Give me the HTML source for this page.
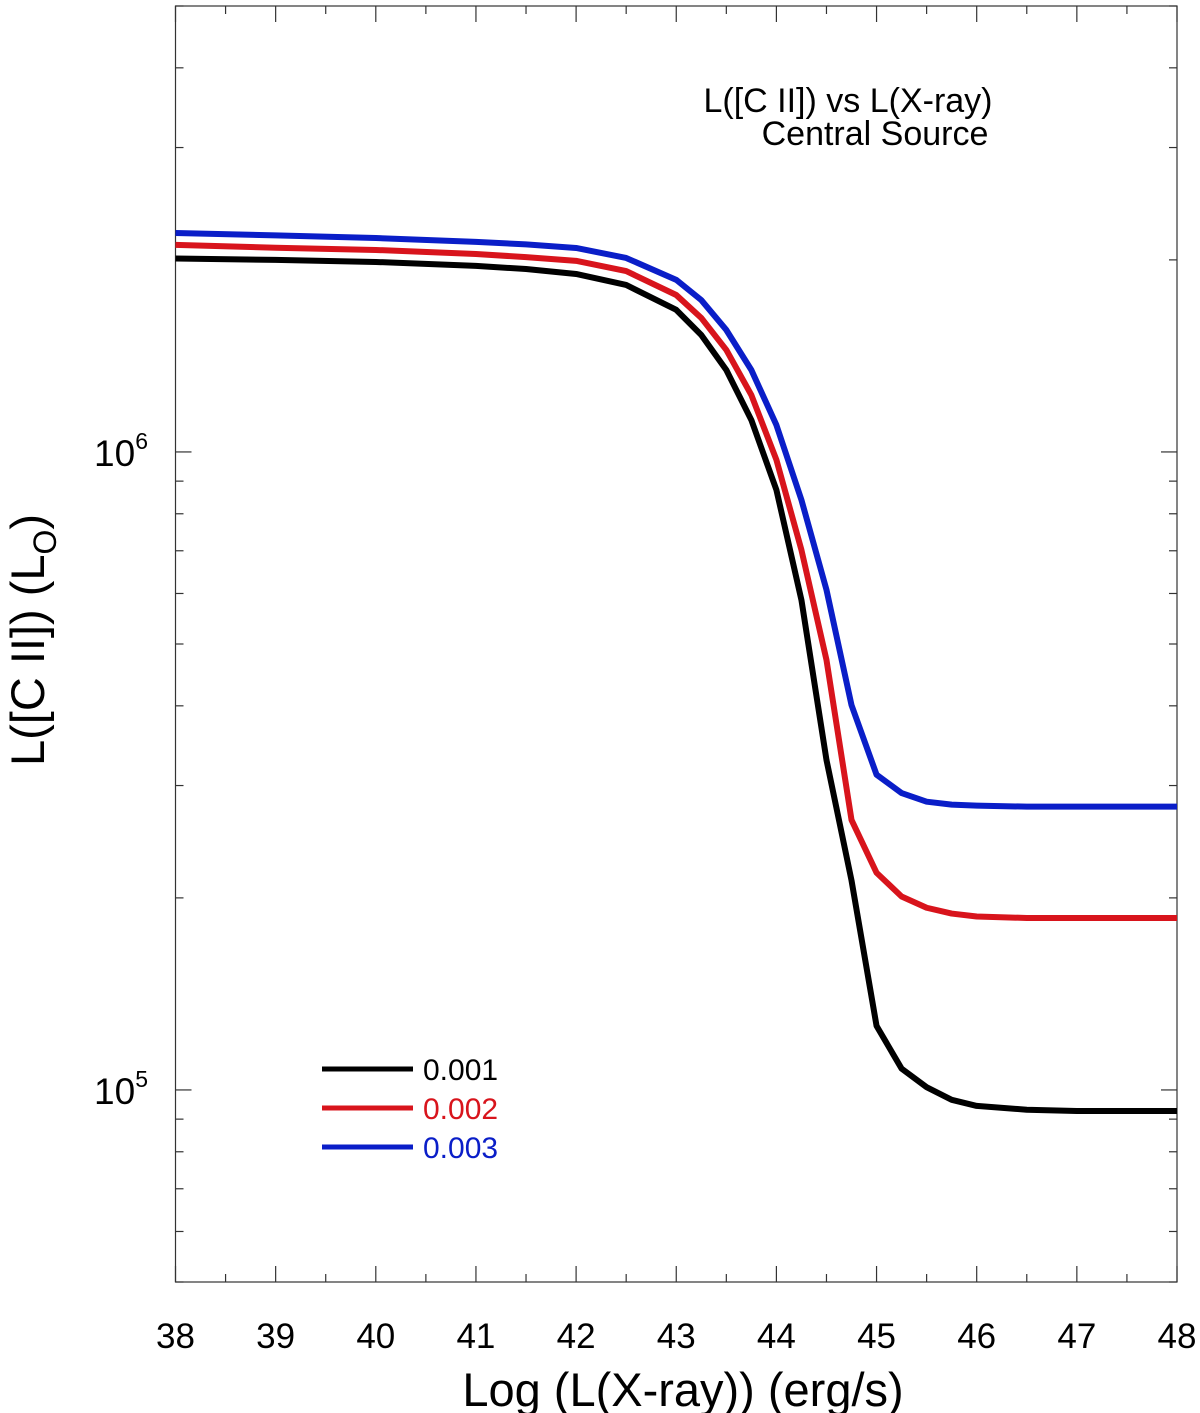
<!DOCTYPE html>
<html><head><meta charset="utf-8"><style>
body{margin:0;background:#fff}
svg{display:block;font-family:"Liberation Sans",Arial,sans-serif}
</style></head><body>
<svg id="chart" width="1200" height="1413" viewBox="0 0 1200 1413">
<g id="axes"></g><g id="series"></g>
<text x="848" y="112" font-size="34" text-anchor="middle">L([C II]) vs L(X-ray)</text>
<text x="875" y="145" font-size="34" text-anchor="middle">Central Source</text>
<text x="683" y="1406" font-size="47" text-anchor="middle">Log (L(X-ray)) (erg/s)</text>
<text transform="translate(44,640) rotate(-90)" font-size="47" text-anchor="middle">L([C II]) (L<tspan font-size="32" dy="12">O</tspan><tspan dy="-12">)</tspan></text>
<g id="legend"></g>
</svg>
<script>
const xs=[38,39,40,41,41.5,42,42.5,43,43.25,43.5,43.75,44,44.25,44.5,44.75,45,45.25,45.5,45.75,46,46.5,47,48];
const black=[2.01,2.0,1.985,1.957,1.935,1.901,1.827,1.67,1.525,1.344,1.122,0.872,0.586,0.329,0.213,0.126,0.108,0.101,0.0965,0.0944,0.0931,0.0927,0.0927];
const red=[2.111,2.09,2.073,2.043,2.02,1.993,1.921,1.762,1.622,1.445,1.228,0.972,0.702,0.472,0.265,0.219,0.201,0.193,0.189,0.187,0.186,0.186,0.186];
const blue=[2.204,2.185,2.164,2.134,2.115,2.088,2.014,1.861,1.73,1.553,1.344,1.102,0.841,0.608,0.401,0.312,0.292,0.283,0.28,0.279,0.278,0.278,0.278];
const seriesNames=["0.001","0.002","0.003"];
const xTicks=[38,39,40,41,42,43,44,45,46,47,48];
const yDecades=[5,6];
const L=175.5,R=1177,T=6,B=1282,xmin=38,xmax=48,ymin=Math.log10(5e4),ymax=Math.log10(5e6);
const X=v=>L+(v-xmin)/(xmax-xmin)*(R-L);
const Y=v=>B-(Math.log10(v*1e6)-ymin)/(ymax-ymin)*(B-T);
const NS="http://www.w3.org/2000/svg";
function mk(tag,at,parent){const e=document.createElementNS(NS,tag);for(const k in at)e.setAttribute(k,at[k]);parent.appendChild(e);return e;}
const ax=document.getElementById('axes');
const frame=mk('rect',{x:L,y:T,width:R-L,height:B-T,fill:'none',stroke:'#333','stroke-width':1.2},ax);


for(let v=38;v<=48.001;v+=0.5){
  const len=Number.isInteger(v)?16:8,x=X(v);
  const t1=mk('line',{x1:x,x2:x,y1:B,y2:B-len,stroke:'#333','stroke-width':1.2},ax);
  
  
  const t2=mk('line',{x1:x,x2:x,y1:T,y2:T+len,stroke:'#333','stroke-width':1.2},ax);
  
  
}
xTicks.forEach(v=>{const t=mk('text',{x:X(v),y:1348,'font-size':35,'text-anchor':'middle'},ax);t.textContent=v;
  
  });
for(let d=4;d<=6;d++)for(let m=1;m<=9;m++){
  const v=m*Math.pow(10,d)/1e6;const lv=Math.log10(m*Math.pow(10,d));
  if(lv<ymin-1e-6||lv>ymax+1e-6)continue;
  const y=Y(v),len=m==1?16:8;
  const a=mk('line',{x1:L,x2:L+len,y1:y,y2:y,stroke:'#333','stroke-width':1.2},ax);
  
  
  const b=mk('line',{x1:R,x2:R-len,y1:y,y2:y,stroke:'#333','stroke-width':1.2},ax);
  
  
}
yDecades.forEach(d=>{const t=mk('text',{x:148,y:Y(Math.pow(10,d)/1e6)+14,'font-size':37,'text-anchor':'end'},ax);
  t.innerHTML='10<tspan font-size="23" dy="-17">'+d+'</tspan>';
  
  });
const sg=document.getElementById('series');
const cols=['#000','#d8141c','#0a1ec8'];
[black,red,blue].forEach((s,i)=>{
  const p=mk('polyline',{points:xs.map((x,j)=>X(x)+','+Y(s[j])).join(' '),fill:'none',stroke:cols[i],'stroke-width':6,'stroke-linejoin':'round'},sg);
  
  
});
const lg=document.getElementById('legend');
seriesNames.forEach((n,i)=>{
  const y=1069+i*39;
  const l=mk('line',{x1:322,x2:413,y1:y,y2:y,stroke:cols[i],'stroke-width':5},lg);
  
  
  const t=mk('text',{x:423,y:y+11,'font-size':30,fill:cols[i]},lg);t.textContent=n;
  
  
});
</script>
</body></html>
